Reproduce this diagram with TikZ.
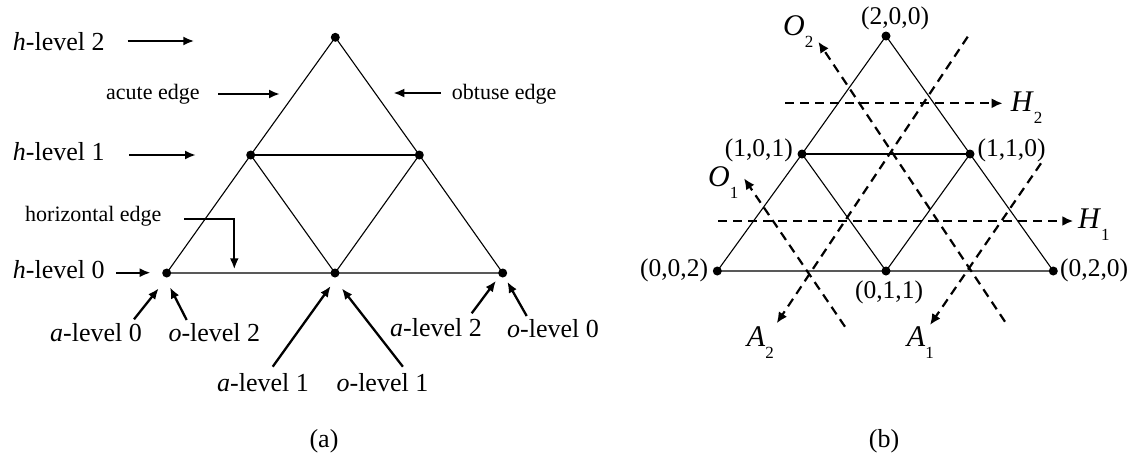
\documentclass[tikz,border=0pt]{standalone}
\usepackage{fontspec}
\setmainfont{Liberation Serif}
\usetikzlibrary{arrows.meta}
\newcommand{\SubLbl}[2]{\textit{#1}\raisebox{-12pt}{\fontsize{17}{17}\selectfont #2}}
\tikzset{
  vdot/.style={circle, fill=black, inner sep=0pt, minimum size=9pt},
  edge/.style={line width=1.1pt, black},
  lab/.style={inner sep=0pt, anchor=base west, font=\fontsize{26}{30}\selectfont},
  smalllab/.style={inner sep=0pt, anchor=base west, font=\fontsize{22}{26}\selectfont},
  coordlab/.style={inner sep=0pt, font=\fontsize{25.5}{30}\selectfont},
  biglab/.style={inner sep=0pt, anchor=base west, font=\fontsize{30}{36}\selectfont},
  larr/.style={line width=2.3pt, -{Latex[length=11pt,width=9pt]}},
  darr/.style={line width=2.2pt, dash pattern=on 9pt off 6pt, -{Latex[length=11pt,width=10pt]}}
}
\begin{document}
\begin{tikzpicture}[x=1pt,y=-1pt]
\useasboundingbox (0,0) rectangle (1135,464);
% ---------- panel (a) ----------
\node[vdot] (aT)  at (335.3,37.3) {};
\node[vdot] (aML) at (250.7,155) {};
\node[vdot] (aMR) at (419.3,155) {};
\node[vdot] (aBL) at (166.7,273) {};
\node[vdot] (aBM) at (335,273) {};
\node[vdot] (aBR) at (502.7,273) {};
\draw[edge] (aT.center) -- (aML.center) -- (aBL.center) -- (aBM.center) -- (aBR.center) -- (aMR.center) -- (aT.center);
\draw[edge] (aML.center) -- (aMR.center);
\draw[edge] (aML.center) -- (aBM.center) -- (aMR.center);

\node[lab] (h2) at (12.7,50) {\textit{h}-level 2};
\node[smalllab] (acute) at (106,99) {acute edge};
\node[smalllab] (obtuse) at (451.7,99) {obtuse edge};
\node[lab] (h1) at (12.7,160) {\textit{h}-level 1};
\node[smalllab] (hor) at (25,221.7) {horizontal edge};
\node[lab] (h0) at (12.7,278.3) {\textit{h}-level 0};
\node[lab] (a0) at (50,341) {\textit{a}-level 0};
\node[lab] (o2) at (168.3,341) {\textit{o}-level 2};
\node[lab] (a1) at (217,391.7) {\textit{a}-level 1};
\node[lab] (o1) at (336.4,391.7) {\textit{o}-level 1};
\node[lab] (a2) at (390,336) {\textit{a}-level 2};
\node[lab] (o0) at (507,337) {\textit{o}-level 0};
\node[inner sep=0pt, font=\fontsize{26}{30}\selectfont] (capa) at (324,441) {(a)};

\coordinate (h2s) at (127.7,41);   \coordinate (h2e) at (194.3,41);
\coordinate (acs) at (218,94);     \coordinate (ace) at (280,94);
\coordinate (obs) at (440.7,93);   \coordinate (obe) at (393.3,93);
\coordinate (h1s) at (129,155);    \coordinate (h1e) at (196,155);
\coordinate (hos) at (184,219);    \coordinate (hoc) at (234.3,219); \coordinate (hoe) at (234.3,269.3);
\coordinate (h0s) at (116,272.7);  \coordinate (h0e) at (150.7,272.7);
\coordinate (a0s) at (134,319.3);  \coordinate (a0e) at (158.7,288.3);
\coordinate (o2s) at (186.7,320);  \coordinate (o2e) at (170,287.3);
\coordinate (a1s) at (272.7,366.7);\coordinate (a1e) at (330.7,286);
\coordinate (o1s) at (402.9,366.7);\coordinate (o1e) at (341.8,288.3);
\coordinate (a2s) at (471.7,313.3);\coordinate (a2e) at (496,280.7);
\coordinate (o0s) at (526.7,316);  \coordinate (o0e) at (507.3,281.7);
\draw[larr] (h2s) -- (h2e);
\draw[larr] (acs) -- (ace);
\draw[larr] (obs) -- (obe);
\draw[larr] (h1s) -- (h1e);
\draw[larr] (hos) -- (hoc) -- (hoe);
\draw[larr] (h0s) -- (h0e);
\draw[larr] (a0s) -- (a0e);
\draw[larr] (o2s) -- (o2e);
\draw[larr] (a1s) -- (a1e);
\draw[larr] (o1s) -- (o1e);
\draw[larr] (a2s) -- (a2e);
\draw[larr] (o0s) -- (o0e);

% ---------- panel (b) ----------
\node[vdot] (bT)  at (886,36) {};
\node[vdot] (bML) at (802,154) {};
\node[vdot] (bMR) at (970,154) {};
\node[vdot] (bBL) at (717.3,271) {};
\node[vdot] (bBM) at (886,271) {};
\node[vdot] (bBR) at (1053.3,271) {};
\draw[edge] (bT.center) -- (bML.center) -- (bBL.center) -- (bBM.center) -- (bBR.center) -- (bMR.center) -- (bT.center);
\draw[edge] (bML.center) -- (bMR.center);
\draw[edge] (bML.center) -- (bBM.center) -- (bMR.center);

\node[coordlab] (l200) at (895,18) {(2,0,0)};
\node[coordlab, anchor=east] (l101) at (793,150) {(1,0,1)};
\node[coordlab, anchor=west] (l110) at (977.3,150) {(1,1,0)};
\node[coordlab, anchor=east] (l002) at (708.3,270) {(0,0,2)};
\node[coordlab, anchor=west] (l020) at (1060,270) {(0,2,0)};
\node[coordlab] (l011) at (889,292) {(0,1,1)};
\node[inner sep=0pt, font=\fontsize{26}{30}\selectfont] (capb) at (884,441) {(b)};

\node[biglab] (O2) at (783,35) {\SubLbl{O}{2}};
\node[biglab] (O1) at (708,186) {\SubLbl{O}{1}};
\node[biglab] (H2) at (1010.7,111.7) {\SubLbl{H}{2}};
\node[biglab] (H1) at (1078,228.3) {\SubLbl{H}{1}};
\node[biglab] (A2) at (746.7,346.7) {\SubLbl{A}{2}};
\node[biglab] (A1) at (906.7,346.7) {\SubLbl{A}{1}};

\coordinate (H2s) at (785,103.3);  \coordinate (H2e) at (1002.7,103.3);
\coordinate (H1s) at (718.3,221);  \coordinate (H1e) at (1073.3,221);
\coordinate (A2s) at (967.7,36.7); \coordinate (A2e) at (776.7,323.3);
\coordinate (A1s) at (1041,163.3); \coordinate (A1e) at (930,325);
\coordinate (O2s) at (1005,321.7); \coordinate (O2e) at (818.3,41.7);
\coordinate (O1s) at (845,326.7);  \coordinate (O1e) at (744,178.3);
\draw[darr] (H2s) -- (H2e);
\draw[darr] (H1s) -- (H1e);
\draw[darr] (A2s) -- (A2e);
\draw[darr] (A1s) -- (A1e);
\draw[darr] (O2s) -- (O2e);
\draw[darr] (O1s) -- (O1e);
\end{tikzpicture}
\end{document}
